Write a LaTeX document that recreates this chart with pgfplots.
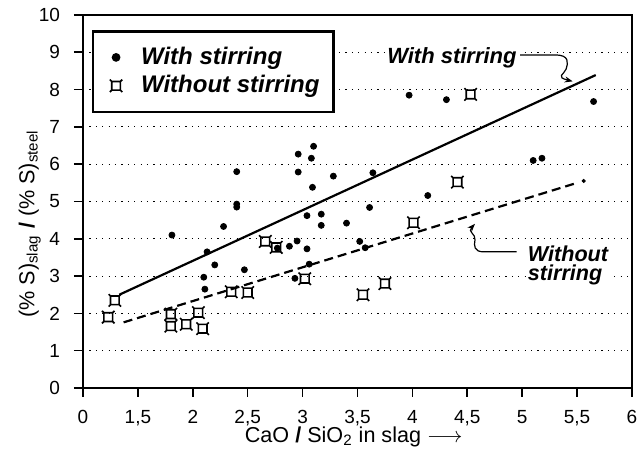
\documentclass[border=0pt]{standalone}
\usepackage{pgfplots}
\pgfplotsset{compat=1.18}
\usepackage{fontspec}
\setmainfont{Liberation Sans}
\usetikzlibrary{arrows.meta}

% currency-sign like marker used for "without stirring"
\pgfdeclareplotmark{cur}{%
  \pgfpathmoveto{\pgfpoint{-0.7\pgfplotmarksize}{-0.7\pgfplotmarksize}}%
  \pgfpathlineto{\pgfpoint{0.7\pgfplotmarksize}{-0.7\pgfplotmarksize}}%
  \pgfpathlineto{\pgfpoint{0.7\pgfplotmarksize}{0.7\pgfplotmarksize}}%
  \pgfpathlineto{\pgfpoint{-0.7\pgfplotmarksize}{0.7\pgfplotmarksize}}%
  \pgfpathclose
  \pgfpathmoveto{\pgfpoint{0.7\pgfplotmarksize}{0.7\pgfplotmarksize}}\pgfpathlineto{\pgfpoint{\pgfplotmarksize}{\pgfplotmarksize}}%
  \pgfpathmoveto{\pgfpoint{-0.7\pgfplotmarksize}{0.7\pgfplotmarksize}}\pgfpathlineto{\pgfpoint{-\pgfplotmarksize}{\pgfplotmarksize}}%
  \pgfpathmoveto{\pgfpoint{0.7\pgfplotmarksize}{-0.7\pgfplotmarksize}}\pgfpathlineto{\pgfpoint{\pgfplotmarksize}{-\pgfplotmarksize}}%
  \pgfpathmoveto{\pgfpoint{-0.7\pgfplotmarksize}{-0.7\pgfplotmarksize}}\pgfpathlineto{\pgfpoint{-\pgfplotmarksize}{-\pgfplotmarksize}}%
  \pgfusepathqstroke}

\begin{document}
\begin{tikzpicture}
\begin{axis}[
    scale only axis,
    width=274.5pt, height=186.5pt,
    xmin=1, xmax=6, ymin=0, ymax=10,
    xtick={1,1.5,...,6},
    xticklabels={0,{1,5},2,{2,5},3,{3,5},4,{4,5},5,{5,5},6},
    ytick={0,1,...,10},
    tick pos=left,
    tick align=outside,
    major tick length=4.5pt,
    tick style={black, line width=0.8pt},
    axis line style={line width=0.9pt},
    ymajorgrids,
    major grid style={black, line width=0.5pt, dash pattern=on 0.6pt off 2.6pt},
    /pgf/number format/assume math mode=true,
    ticklabel style={font=\fontsize{9.5}{10}\selectfont},
    xticklabel style={yshift=-3pt},
    yticklabel style={xshift=-3.5pt},
    xlabel={CaO \textbf{/} SiO\textsubscript{2} in slag $\longrightarrow$},
    ylabel={(\% S)\textsubscript{slag} \textbf{/} (\% S)\textsubscript{steel}},
    xlabel style={font=\fontsize{10.8}{12}\selectfont, at={(axis description cs:0.493,-0.13)}, anchor=center},
    ylabel style={font=\fontsize{10.8}{12}\selectfont, at={(axis description cs:-0.097,0.44)}, anchor=center},
    legend style={at={(axis description cs:0.016,0.96)}, anchor=north west,
        draw=black, line width=1.3pt, fill=white,
        font=\fontsize{12}{13}\selectfont\bfseries\itshape,
        inner xsep=5pt, inner ysep=6pt, row sep=0pt},
    legend image code/.code={%
        \path[draw=none, fill=none] (0pt,0pt) rectangle (17pt,0pt);
        \draw[#1, only marks] plot coordinates {(6.5pt,0pt)};},
    legend cell align=left,
]
% regression lines
\addplot[black, line width=1.1pt, forget plot] coordinates {(1.33,2.50) (5.67,8.39)};
\addplot[black, line width=1.1pt, dash pattern=on 4.5pt off 2.5pt, forget plot] coordinates {(1.37,1.76) (5.50,5.50)};
\addplot[black, only marks, mark=*, mark size=0.8pt, forget plot] coordinates {(5.56,5.55)};

\addplot[black, only marks, mark=*, mark size=1.5pt] table {
x y
1.81 4.10
2.13 3.65
2.20 3.30
2.10 2.97
2.11 2.65
2.28 4.33
2.40 5.80
2.40 4.93
2.40 4.85
2.47 3.17
2.77 3.75
2.88 3.80
2.95 3.94
2.93 2.94
2.96 6.27
2.96 5.79
3.04 4.62
3.04 3.73
3.06 3.32
3.08 6.16
3.09 5.38
3.10 6.48
3.17 4.66
3.17 4.36
3.28 5.68
3.40 4.42
3.52 3.93
3.57 3.76
3.61 4.84
3.64 5.77
3.97 7.85
4.14 5.16
4.31 7.73
5.10 6.10
5.18 6.16
5.65 7.68
};
\addlegendentry{With stirring}

\addplot[black, only marks, mark=cur, mark size=3.1pt, mark options={line width=0.8pt}] table {
x y
1.23 1.90
1.29 2.35
1.80 1.98
1.80 1.66
1.94 1.71
2.05 2.02
2.09 1.59
2.35 2.58
2.50 2.56
2.66 3.93
2.76 3.77
3.02 2.93
3.55 2.50
3.75 2.80
4.01 4.43
4.41 5.52
4.53 7.87
};
\addlegendentry{Without stirring\hspace{10pt}}

% annotations
\node[font=\fontsize{11}{12}\selectfont\bfseries\itshape, fill=white, inner sep=1pt] at (axis cs:4.36,8.84) {With stirring};
\draw[line width=0.6pt, -{Stealth[length=4pt, width=3pt]}]
    (axis cs:4.98,8.93) -- (axis cs:5.30,8.93)
    .. controls (axis cs:5.43,8.93) and (axis cs:5.42,8.72) .. (axis cs:5.40,8.55)
    .. controls (axis cs:5.38,8.40) and (axis cs:5.30,8.34) .. (axis cs:5.46,8.22);
\node[font=\fontsize{10.8}{9.8}\selectfont\bfseries\itshape, align=left, anchor=west, fill=white, inner sep=1pt] at (axis cs:5.03,3.29) {Without\\stirring};
\draw[line width=0.6pt, -{Stealth[length=4pt, width=3pt]}]
    (axis cs:4.95,3.65) -- (axis cs:4.65,3.65)
    .. controls (axis cs:4.56,3.65) and (axis cs:4.56,3.81) .. (axis cs:4.57,3.97)
    .. controls (axis cs:4.58,4.13) and (axis cs:4.50,4.18) .. (axis cs:4.57,4.40);
\end{axis}
\pgfresetboundingbox
\path[use as bounding box] (-41.5pt,-35.5pt) rectangle (277.5pt,194pt);
\end{tikzpicture}
\end{document}
